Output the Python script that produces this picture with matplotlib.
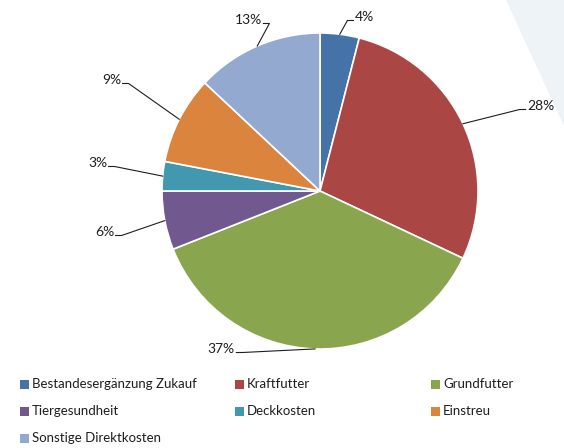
import numpy as np
import matplotlib
matplotlib.use("Agg")
import matplotlib.pyplot as plt
from matplotlib.patches import Polygon, Rectangle

plt.rcParams['font.family'] = ['Lato', 'DejaVu Sans']

categories = ['Bestandesergänzung Zukauf', 'Kraftfutter', 'Grundfutter',
              'Tiergesundheit', 'Deckkosten', 'Einstreu', 'Sonstige Direktkosten']
shares = [4, 28, 37, 6, 3, 9, 13]
colors = ['#4572A7', '#AA4643', '#89A54E', '#71588F', '#4198AF', '#DB843D', '#93A9CF']

W, H = 564, 448
cx, cy, R = 320, 191, 158

# label text positions (pixels, y from top)
label_pos = [(364, 17), (541, 106), (221, 349), (105, 232), (98, 163), (112, 80), (248, 20)]


def Y(y):
    return H - y


fig = plt.figure(figsize=(W / 100, H / 100), dpi=100)
ax = fig.add_axes([0, 0, 1, 1])

# pale band in the top right corner
ax.add_patch(Polygon([(506, Y(0)), (W, Y(0)), (W, Y(126))], closed=True,
                     facecolor='#EDF3F6', edgecolor='none', zorder=0))

wedges, _ = ax.pie(shares, colors=colors, startangle=90, counterclock=False,
                   center=(cx, Y(cy)), radius=R, frame=True,
                   wedgeprops=dict(edgecolor='white', linewidth=1.2))
ax.set_xlim(0, W)
ax.set_ylim(0, H)
ax.set_aspect('auto')
ax.axis('off')

# value labels with leader lines from the middle of each slice
for w, val, (tx, ty) in zip(wedges, shares, label_pos):
    ang = np.deg2rad((w.theta1 + w.theta2) / 2)
    ex = cx + R * np.cos(ang)
    ey = Y(cy) + R * np.sin(ang)
    lbl = f'{val}%'
    ax.text(tx, Y(ty), lbl, fontsize=10, color='#1e1e1e', ha='center', va='center')
    half = 4.8 * len(lbl)
    if tx > cx:
        x0 = tx - half - 1
        knee = x0 - 6
    else:
        x0 = tx + half + 1
        knee = x0 + 6
    ly = Y(ty) - 3.5
    ax.plot([ex, knee, x0], [ey, ly, ly], color='#1e1e1e', lw=0.8, zorder=1)

# legend laid out in rows like the original sheet
col_x = [20, 235, 431]
row_y = [384, 411, 438]
for i, (name, c) in enumerate(zip(categories, colors)):
    r, k = divmod(i, 3)
    x, y = col_x[k], row_y[r]
    ax.add_patch(Rectangle((x, Y(y) - 4.5), 9, 9, facecolor=c, edgecolor='none'))
    ax.text(x + 12, Y(y), name, fontsize=9.5, color='#1e1e1e', va='center', ha='left')

fig.savefig('out.png', dpi=100)
